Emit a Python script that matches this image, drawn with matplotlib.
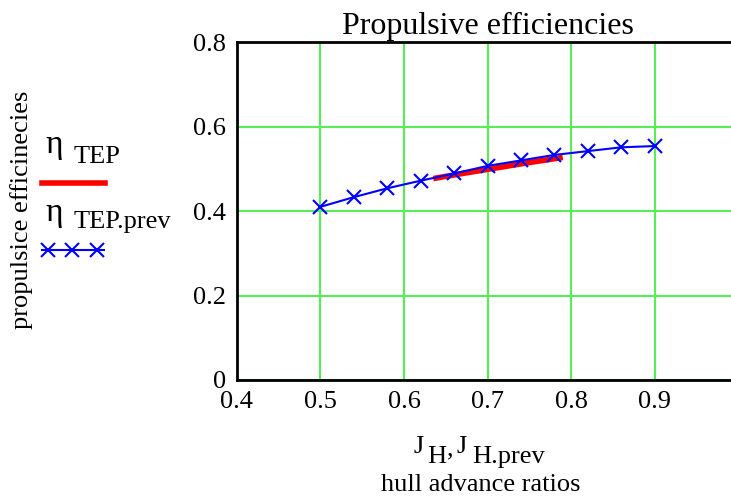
import matplotlib
matplotlib.use('Agg')
import matplotlib.pyplot as plt
from matplotlib.lines import Line2D

plt.rcParams['font.family'] = ['Liberation Serif', 'DejaVu Serif']

# previous design (blue, with markers)
J_prev = [0.50, 0.54, 0.58, 0.62, 0.66, 0.70, 0.74, 0.78, 0.82, 0.86, 0.90]
eta_prev = [0.410, 0.433, 0.454, 0.472, 0.489, 0.507, 0.520, 0.533, 0.542, 0.551, 0.554]
# current design (red)
J_cur = [0.635, 0.67, 0.71, 0.75, 0.79]
eta_cur = [0.477, 0.489, 0.502, 0.515, 0.527]

xticks = [0.4, 0.5, 0.6, 0.7, 0.8, 0.9]
yticks = [0, 0.2, 0.4, 0.6, 0.8]

fig = plt.figure(figsize=(7.31, 4.99), dpi=100)
ax = fig.add_axes([0.324, 0.2385, 0.686, 0.677])

ax.plot(J_cur, eta_cur, color='red', lw=4, solid_capstyle='butt', zorder=3)
ax.plot(J_prev, eta_prev, color='blue', lw=1.5, marker='x', ms=10, mew=1.5, zorder=4)

ax.set_xlim(0.4, 1.0)
ax.set_ylim(0, 0.8)
ax.set_xticks(xticks)
ax.set_xticklabels(['0.4', '0.5', '0.6', '0.7', '0.8', '0.9'])
ax.set_yticks(yticks)
ax.set_yticklabels(['0', '0.2', '0.4', '0.6', '0.8'])
ax.tick_params(length=0, labelsize=19, pad=8)
ax.grid(True, color='#55ee55', lw=1.5)
ax.set_axisbelow(True)
for s in ax.spines.values():
    s.set_linewidth(2)
    s.set_color('black')

ax.set_title('Propulsive efficiencies', fontsize=23, pad=6)

fig.text(0.03, 0.58, 'propulsice efficinecies', rotation=90, fontsize=19,
         ha='center', va='center')

# legend drawn by hand, Mathcad style
fig.text(0.062, 0.693, 'η', fontsize=24, ha='left', va='baseline')
fig.text(0.100, 0.673, 'TEP', fontsize=19, ha='left', va='baseline')
fig.add_artist(Line2D([0.0575, 0.1436], [0.633, 0.633], color='red', lw=4,
                      transform=fig.transFigure))
fig.text(0.062, 0.557, 'η', fontsize=24, ha='left', va='baseline')
fig.text(0.100, 0.543, 'TEP.prev', fontsize=19, ha='left', va='baseline')
fig.add_artist(Line2D([0.0575, 0.142], [0.499, 0.499], color='blue', lw=1.5,
                      transform=fig.transFigure))
fig.add_artist(Line2D([0.0657, 0.0985, 0.1327], [0.499, 0.499, 0.499], color='blue',
                      lw=0, marker='x', ms=10, mew=1.5,
                      transform=fig.transFigure))

# x-axis label
fig.text(0.566, 0.092, 'J', fontsize=19, ha='left', va='baseline')
fig.text(0.585, 0.072, 'H', fontsize=19, ha='left', va='baseline')
fig.text(0.611, 0.088, ',', fontsize=19, ha='left', va='baseline')
fig.text(0.624, 0.092, 'J', fontsize=19, ha='left', va='baseline')
fig.text(0.646, 0.072, 'H.prev', fontsize=19, ha='left', va='baseline')
fig.text(0.658, 0.016, 'hull advance ratios', fontsize=19, ha='center', va='baseline')

fig.savefig('out.png', dpi=100)
